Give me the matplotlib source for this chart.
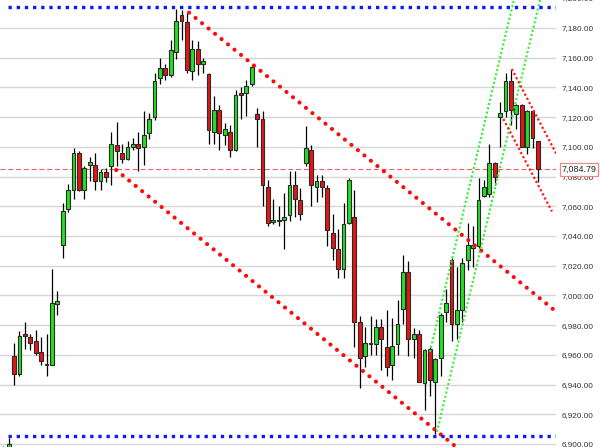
import matplotlib
matplotlib.use("Agg")
import matplotlib.pyplot as plt
import matplotlib.transforms as mtrans
import numpy as np

# ---------------- data ----------------
opens = [6890, 6892, 6959, 6947, 6974, 6972, 6969, 6962, 6954, 6953,
         6994, 7034, 7058, 7071, 7096, 7071, 7088, 7088, 7077, 7083,
         7087, 7101, 7096, 7092, 7100, 7102, 7100, 7109, 7120, 7146,
         7153, 7148, 7164, 7189, 7184, 7151, 7166, 7156, 7149, 7110,
         7125, 7108, 7110, 7098, 7136, 7136, 7142, 7122, 7119, 7073,
         7049.5, 7050, 7051, 7054, 7074, 7064, 7089, 7098, 7073, 7077,
         7072, 7042, 7031, 7018, 7049, 7053, 6982, 6959, 6968, 6967,
         6979, 6965, 6953, 6967, 6991, 7016, 6971, 6974, 6941, 6964,
         6942, 6958, 6989, 7024, 6981, 6990, 7024, 7032, 7033, 7067,
         7068, 7089, 7120, 7124, 7144, 7122, 7128, 7100, 7124, 7104]
highs = [6899, 6904, 6968, 6976, 6982, 6974, 6977, 6972, 6974, 7018,
         7003, 7062, 7075, 7099, 7097, 7087, 7093, 7096, 7085, 7086,
         7110, 7117, 7102, 7104, 7106, 7110, 7124, 7123, 7150, 7160,
         7156, 7172, 7193, 7192, 7190, 7172, 7171, 7160, 7150, 7134,
         7128, 7116, 7115, 7138, 7140, 7145, 7155, 7126, 7124, 7078,
         7065, 7060, 7069, 7084, 7084, 7072, 7114, 7101, 7081, 7081,
         7074, 7055, 7045, 7062, 7079, 7071, 6986, 6979, 6986, 6984,
         6984, 6990, 6985, 6997, 7027, 7023, 6978, 6977, 6964, 6965,
         6958, 6988, 7004, 7025, 7019, 7025, 7049, 7047, 7079, 7078,
         7102, 7090, 7130, 7150, 7152, 7129, 7129, 7125, 7125, 7104]
lows = [6878, 6886, 6940, 6946, 6964, 6963, 6960, 6953, 6946, 6953,
        6987, 7025, 7056, 7065, 7070, 7065, 7077, 7071, 7071, 7076,
        7074, 7087, 7089, 7091, 7098, 7084, 7088, 7105, 7118, 7142,
        7145, 7147, 7159, 7172, 7150, 7145, 7148, 7150, 7102, 7102,
        7098, 7101, 7093, 7097, 7119, 7121, 7141, 7100, 7060, 7047,
        7048, 7047, 7031, 7050, 7053, 7051, 7087, 7060, 7063, 7066,
        7033, 7024, 7012, 7012, 7048, 6965, 6938, 6952, 6960, 6960,
        6950, 6946, 6943, 6960, 6981, 6959, 6958, 6942, 6923, 6932,
        6907, 6946, 6982, 6969, 6971, 6982, 7017, 7019, 7032, 7066,
        7066, 7074, 7100, 7120, 7115, 7112, 7100, 7095, 7099, 7076]
closes = [6884, 6900, 6947, 6973, 6973, 6968, 6961, 6956, 6953, 6995,
          6996, 7057, 7071, 7096, 7071, 7086, 7090, 7077, 7083, 7080,
          7102, 7097, 7092, 7100, 7102, 7099, 7108, 7119, 7144, 7153,
          7148, 7165, 7185, 7185, 7152, 7166, 7156, 7158, 7111, 7125,
          7109, 7112, 7098, 7135, 7135, 7141, 7154, 7119, 7074, 7049,
          7050.5, 7050, 7053, 7074, 7065, 7055, 7099, 7074, 7077, 7073,
          7044, 7032, 7018, 7048, 7078, 6982, 6958, 6968, 6967, 6979,
          6971, 6952, 6966, 6981, 7016, 6971, 6974, 6942, 6963, 6943,
          6957, 6987, 6995, 6981, 6990, 7022, 7034, 7034, 7064, 7073,
          7089, 7080, 7123, 7144, 7125, 7128, 7100, 7124, 7106, 7084.79]

last_price = 7084.79
y_ticks = list(range(6900, 7181, 20))

# trend lines: (start index, start value, slope per bar, end index)
channel_upper = (34.4, 7190.3, -2.96, 103.0)
channel_lower = (20.9, 7084.4, -2.96, 103.0)
green_a = (79.0, 6962.0, 15.23, 95.0)
green_b = (80.3, 6908.2, 15.23, 101.0)
small_upper = (94.15, 7152.4, -6.91, 103.0)
small_lower = (92.6, 7118.7, -6.91, 101.6)
blue_top = (0.85, 7194.3, 0.0, 103.0)
blue_bottom = (0.85, 6905.7, 0.0, 103.0)

# ---------------- figure ----------------
W, H = 600, 447
fig = plt.figure(figsize=(W / 100, H / 100), dpi=100)
fig.patch.set_facecolor("white")
ax = fig.add_axes([0, 0, 556 / 600, 1])
ax.set_facecolor("white")

x = np.arange(len(opens))
ax.set_xlim(-0.611, 102.35)
ax.set_ylim(6898.0, 7198.8)

for s in ax.spines.values():
    s.set_visible(False)
ax.set_xticks([])
ax.yaxis.tick_right()
ax.set_yticks(y_ticks)
ax.set_yticklabels([f"{v:,.2f}" for v in y_ticks])
label_font = ["Liberation Sans", "DejaVu Sans"]
ax.tick_params(axis="y", length=0, pad=4.3, labelsize=5.9, labelcolor="#333333")
for t in ax.get_yticklabels():
    t.set_fontfamily(label_font)
ax.yaxis.grid(True, color="#d6d6d6", lw=1.0)
ax.set_axisbelow(True)

# partially visible top label
blend = mtrans.blended_transform_factory(ax.transAxes, ax.transData)
ax.text(1 + 6 / 556, 7200, "7,200.00", transform=blend, ha="left", va="center",
        fontsize=5.9, color="#333333", family=label_font, clip_on=False)

# last price dashed line
ax.axhline(last_price, color="#f06060", lw=0.8, ls=(0, (4.5, 2.5)), zorder=1.5)

# candles
o = np.array(opens, float)
c = np.array(closes, float)
hi = np.array(highs, float)
lo = np.array(lows, float)
up = c >= o
ax.vlines(x, lo, hi, color="#000000", lw=0.9, zorder=3)
body_bottom = np.minimum(o, c)
body_h = np.maximum(np.abs(c - o), 0.9)
colors = np.where(up, "#22e022", "#e81414")
ax.bar(x, body_h, bottom=body_bottom, width=0.72, color=colors,
       edgecolor="#2a2a2a", linewidth=0.8, zorder=3.5)


def draw_line(spec, **kw):
    x0, y0, slope, x1 = spec
    xs = np.array([x0, x1])
    ys = y0 + slope * (xs - x0)
    ax.plot(xs, ys, **kw)


red_big = dict(color="#ff0a0a", lw=3.0, ls=(0, (0.01, 2.0)),
               dash_capstyle="round", zorder=5)
draw_line(channel_upper, **red_big)
draw_line(channel_lower, **red_big)

green_kw = dict(color="#35ec35", lw=1.5, ls=(0, (1, 1.1)), zorder=5)
draw_line(green_a, **green_kw)
draw_line(green_b, **green_kw)

small_red = dict(color="#ff1a1a", lw=1.6, ls=(0, (1, 1.1)), zorder=5)
draw_line(small_upper, **small_red)
draw_line(small_lower, **small_red)

blue_kw = dict(color="#0a1aff", lw=2.4, ls=(0, (1, 1.45)), zorder=5)
draw_line(blue_top, **blue_kw)
draw_line(blue_bottom, **blue_kw)

# last price label
ax.text(1 + 5.5 / 556, last_price, f"{last_price:,.2f}", transform=blend,
        ha="left", va="center", fontsize=6.4, color="#222222", family=label_font,
        clip_on=False, zorder=10,
        bbox=dict(boxstyle="square,pad=0.18", fc="white", ec="#f08888", lw=0.9))

fig.savefig("out.png", dpi=100, facecolor="white")
